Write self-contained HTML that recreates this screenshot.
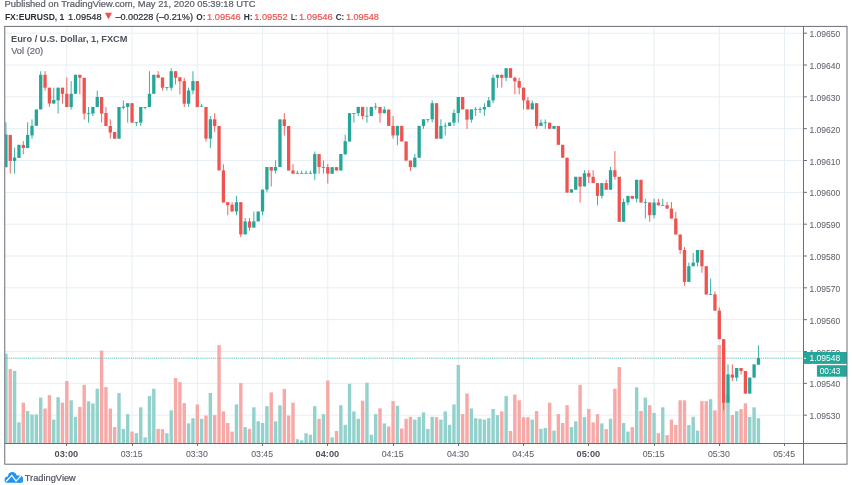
<!DOCTYPE html>
<html><head><meta charset="utf-8"><style>
html,body{margin:0;padding:0;width:852px;height:485px;overflow:hidden;background:#fff;}
body{position:relative;font-family:"Liberation Sans",sans-serif;}
</style></head><body>
<svg width="852" height="485" viewBox="0 0 852 485" style="position:absolute;left:0;top:0;will-change:transform">
<rect x="0" y="0" width="852" height="485" fill="#ffffff"/>
<text x="4.60" y="7.20" font-size="9.3" fill="#5d606b" font-family="Liberation Sans, sans-serif" stroke="#5d606b" stroke-width="0.22" textLength="251.00" lengthAdjust="spacingAndGlyphs">Published on TradingView.com, May 21, 2020 05:39:18 UTC</text>
<text x="4.90" y="19.70" font-size="9.8" fill="#2a2e39" font-family="Liberation Sans, sans-serif" font-weight="bold" textLength="59.50" lengthAdjust="spacingAndGlyphs">FX:EURUSD, 1</text>
<text x="68.10" y="19.70" font-size="9.8" fill="#2a2e39" font-family="Liberation Sans, sans-serif" stroke="#2a2e39" stroke-width="0.22" textLength="33.60" lengthAdjust="spacingAndGlyphs">1.09548</text>
<polygon points="105.0,12.8 111.9,12.8 108.45,19.5" fill="#ef5350"/>
<text x="115.40" y="19.70" font-size="9.8" fill="#2a2e39" font-family="Liberation Sans, sans-serif" stroke="#2a2e39" stroke-width="0.22" textLength="77.60" lengthAdjust="spacingAndGlyphs">–0.00228 (–0.21%)</text>
<text x="196.30" y="19.70" font-size="9.8" fill="#2a2e39" font-family="Liberation Sans, sans-serif" font-weight="bold" textLength="9.20" lengthAdjust="spacingAndGlyphs">O:</text>
<text x="207.10" y="19.70" font-size="9.8" fill="#ef5350" font-family="Liberation Sans, sans-serif" stroke="#ef5350" stroke-width="0.22" textLength="33.50" lengthAdjust="spacingAndGlyphs">1.09546</text>
<text x="243.70" y="19.70" font-size="9.8" fill="#2a2e39" font-family="Liberation Sans, sans-serif" font-weight="bold" textLength="8.90" lengthAdjust="spacingAndGlyphs">H:</text>
<text x="254.20" y="19.70" font-size="9.8" fill="#ef5350" font-family="Liberation Sans, sans-serif" stroke="#ef5350" stroke-width="0.22" textLength="33.40" lengthAdjust="spacingAndGlyphs">1.09552</text>
<text x="290.90" y="19.70" font-size="9.8" fill="#2a2e39" font-family="Liberation Sans, sans-serif" font-weight="bold" textLength="6.40" lengthAdjust="spacingAndGlyphs">L:</text>
<text x="298.90" y="19.70" font-size="9.8" fill="#ef5350" font-family="Liberation Sans, sans-serif" stroke="#ef5350" stroke-width="0.22" textLength="33.90" lengthAdjust="spacingAndGlyphs">1.09546</text>
<text x="335.70" y="19.70" font-size="9.8" fill="#2a2e39" font-family="Liberation Sans, sans-serif" font-weight="bold" textLength="8.60" lengthAdjust="spacingAndGlyphs">C:</text>
<text x="345.90" y="19.70" font-size="9.8" fill="#ef5350" font-family="Liberation Sans, sans-serif" stroke="#ef5350" stroke-width="0.22" textLength="33.00" lengthAdjust="spacingAndGlyphs">1.09548</text>
<g stroke="#e6eef4" stroke-width="1">
<line x1="4.75" y1="33.20" x2="803.5" y2="33.20"/>
<line x1="4.75" y1="65.03" x2="803.5" y2="65.03"/>
<line x1="4.75" y1="96.86" x2="803.5" y2="96.86"/>
<line x1="4.75" y1="128.69" x2="803.5" y2="128.69"/>
<line x1="4.75" y1="160.52" x2="803.5" y2="160.52"/>
<line x1="4.75" y1="192.35" x2="803.5" y2="192.35"/>
<line x1="4.75" y1="224.18" x2="803.5" y2="224.18"/>
<line x1="4.75" y1="256.01" x2="803.5" y2="256.01"/>
<line x1="4.75" y1="287.84" x2="803.5" y2="287.84"/>
<line x1="4.75" y1="319.67" x2="803.5" y2="319.67"/>
<line x1="4.75" y1="351.50" x2="803.5" y2="351.50"/>
<line x1="4.75" y1="383.33" x2="803.5" y2="383.33"/>
<line x1="4.75" y1="415.16" x2="803.5" y2="415.16"/>
<line x1="66.80" y1="26.4" x2="66.80" y2="443.5"/>
<line x1="132.05" y1="26.4" x2="132.05" y2="443.5"/>
<line x1="197.30" y1="26.4" x2="197.30" y2="443.5"/>
<line x1="262.55" y1="26.4" x2="262.55" y2="443.5"/>
<line x1="327.80" y1="26.4" x2="327.80" y2="443.5"/>
<line x1="393.05" y1="26.4" x2="393.05" y2="443.5"/>
<line x1="458.30" y1="26.4" x2="458.30" y2="443.5"/>
<line x1="523.55" y1="26.4" x2="523.55" y2="443.5"/>
<line x1="588.80" y1="26.4" x2="588.80" y2="443.5"/>
<line x1="654.05" y1="26.4" x2="654.05" y2="443.5"/>
<line x1="719.30" y1="26.4" x2="719.30" y2="443.5"/>
<line x1="784.55" y1="26.4" x2="784.55" y2="443.5"/>
</g>
<g>
<rect x="5.25" y="353.70" width="2.35" height="89.30" fill="#93d2cc"/>
<rect x="8.55" y="369.10" width="3.40" height="73.90" fill="#f7a9a7"/>
<rect x="12.90" y="370.80" width="3.40" height="72.20" fill="#93d2cc"/>
<rect x="17.25" y="422.30" width="3.40" height="20.70" fill="#93d2cc"/>
<rect x="21.60" y="402.70" width="3.40" height="40.30" fill="#f7a9a7"/>
<rect x="25.95" y="411.00" width="3.40" height="32.00" fill="#93d2cc"/>
<rect x="30.30" y="414.50" width="3.40" height="28.50" fill="#93d2cc"/>
<rect x="34.65" y="414.50" width="3.40" height="28.50" fill="#93d2cc"/>
<rect x="39.00" y="397.60" width="3.40" height="45.40" fill="#93d2cc"/>
<rect x="43.35" y="408.50" width="3.40" height="34.50" fill="#f7a9a7"/>
<rect x="47.70" y="395.10" width="3.40" height="47.90" fill="#f7a9a7"/>
<rect x="52.05" y="419.60" width="3.40" height="23.40" fill="#93d2cc"/>
<rect x="56.40" y="397.20" width="3.40" height="45.80" fill="#93d2cc"/>
<rect x="60.75" y="402.70" width="3.40" height="40.30" fill="#f7a9a7"/>
<rect x="65.10" y="381.10" width="3.40" height="61.90" fill="#f7a9a7"/>
<rect x="69.45" y="400.30" width="3.40" height="42.70" fill="#93d2cc"/>
<rect x="73.80" y="416.80" width="3.40" height="26.20" fill="#93d2cc"/>
<rect x="78.15" y="406.90" width="3.40" height="36.10" fill="#f7a9a7"/>
<rect x="82.50" y="384.80" width="3.40" height="58.20" fill="#f7a9a7"/>
<rect x="86.85" y="401.30" width="3.40" height="41.70" fill="#93d2cc"/>
<rect x="91.20" y="403.40" width="3.40" height="39.60" fill="#93d2cc"/>
<rect x="95.55" y="388.70" width="3.40" height="54.30" fill="#93d2cc"/>
<rect x="99.90" y="350.60" width="3.40" height="92.40" fill="#f7a9a7"/>
<rect x="104.25" y="387.10" width="3.40" height="55.90" fill="#f7a9a7"/>
<rect x="108.60" y="408.50" width="3.40" height="34.50" fill="#f7a9a7"/>
<rect x="112.95" y="427.10" width="3.40" height="15.90" fill="#f7a9a7"/>
<rect x="117.30" y="393.00" width="3.40" height="50.00" fill="#93d2cc"/>
<rect x="121.65" y="428.90" width="3.40" height="14.10" fill="#93d2cc"/>
<rect x="126.00" y="414.10" width="3.40" height="28.90" fill="#93d2cc"/>
<rect x="130.35" y="431.60" width="3.40" height="11.40" fill="#f7a9a7"/>
<rect x="134.70" y="433.20" width="3.40" height="9.80" fill="#93d2cc"/>
<rect x="139.05" y="407.30" width="3.40" height="35.70" fill="#93d2cc"/>
<rect x="143.40" y="437.40" width="3.40" height="5.60" fill="#93d2cc"/>
<rect x="147.75" y="396.10" width="3.40" height="46.90" fill="#93d2cc"/>
<rect x="152.10" y="388.70" width="3.40" height="54.30" fill="#93d2cc"/>
<rect x="156.45" y="428.90" width="3.40" height="14.10" fill="#f7a9a7"/>
<rect x="160.80" y="429.10" width="3.40" height="13.90" fill="#f7a9a7"/>
<rect x="165.15" y="433.20" width="3.40" height="9.80" fill="#93d2cc"/>
<rect x="169.50" y="410.40" width="3.40" height="32.60" fill="#93d2cc"/>
<rect x="173.85" y="378.00" width="3.40" height="65.00" fill="#f7a9a7"/>
<rect x="178.20" y="382.10" width="3.40" height="60.90" fill="#f7a9a7"/>
<rect x="182.55" y="403.10" width="3.40" height="39.90" fill="#f7a9a7"/>
<rect x="186.90" y="423.40" width="3.40" height="19.60" fill="#93d2cc"/>
<rect x="191.25" y="418.20" width="3.40" height="24.80" fill="#93d2cc"/>
<rect x="195.60" y="404.40" width="3.40" height="38.60" fill="#f7a9a7"/>
<rect x="199.95" y="418.80" width="3.40" height="24.20" fill="#93d2cc"/>
<rect x="204.30" y="415.50" width="3.40" height="27.50" fill="#f7a9a7"/>
<rect x="208.65" y="393.00" width="3.40" height="50.00" fill="#93d2cc"/>
<rect x="213.00" y="415.10" width="3.40" height="27.90" fill="#f7a9a7"/>
<rect x="217.35" y="345.10" width="3.40" height="97.90" fill="#f7a9a7"/>
<rect x="221.70" y="411.40" width="3.40" height="31.60" fill="#f7a9a7"/>
<rect x="226.05" y="423.00" width="3.40" height="20.00" fill="#f7a9a7"/>
<rect x="230.40" y="431.60" width="3.40" height="11.40" fill="#f7a9a7"/>
<rect x="234.75" y="404.40" width="3.40" height="38.60" fill="#93d2cc"/>
<rect x="239.10" y="383.10" width="3.40" height="59.90" fill="#f7a9a7"/>
<rect x="243.45" y="427.10" width="3.40" height="15.90" fill="#93d2cc"/>
<rect x="247.80" y="428.90" width="3.40" height="14.10" fill="#f7a9a7"/>
<rect x="252.15" y="407.30" width="3.40" height="35.70" fill="#93d2cc"/>
<rect x="256.50" y="421.30" width="3.40" height="21.70" fill="#93d2cc"/>
<rect x="260.85" y="423.00" width="3.40" height="20.00" fill="#93d2cc"/>
<rect x="265.20" y="406.20" width="3.40" height="36.80" fill="#93d2cc"/>
<rect x="269.55" y="392.40" width="3.40" height="50.60" fill="#f7a9a7"/>
<rect x="273.90" y="421.30" width="3.40" height="21.70" fill="#93d2cc"/>
<rect x="278.25" y="405.20" width="3.40" height="37.80" fill="#93d2cc"/>
<rect x="282.60" y="388.90" width="3.40" height="54.10" fill="#f7a9a7"/>
<rect x="286.95" y="415.50" width="3.40" height="27.50" fill="#f7a9a7"/>
<rect x="291.30" y="402.70" width="3.40" height="40.30" fill="#f7a9a7"/>
<rect x="295.65" y="439.20" width="3.40" height="3.80" fill="#93d2cc"/>
<rect x="300.00" y="440.30" width="3.40" height="2.70" fill="#93d2cc"/>
<rect x="304.35" y="433.20" width="3.40" height="9.80" fill="#93d2cc"/>
<rect x="308.70" y="434.70" width="3.40" height="8.30" fill="#93d2cc"/>
<rect x="313.05" y="406.20" width="3.40" height="36.80" fill="#93d2cc"/>
<rect x="317.40" y="418.80" width="3.40" height="24.20" fill="#f7a9a7"/>
<rect x="321.75" y="414.10" width="3.40" height="28.90" fill="#93d2cc"/>
<rect x="326.10" y="380.50" width="3.40" height="62.50" fill="#f7a9a7"/>
<rect x="330.45" y="437.40" width="3.40" height="5.60" fill="#93d2cc"/>
<rect x="334.80" y="431.00" width="3.40" height="12.00" fill="#f7a9a7"/>
<rect x="339.15" y="405.20" width="3.40" height="37.80" fill="#93d2cc"/>
<rect x="343.50" y="424.80" width="3.40" height="18.20" fill="#93d2cc"/>
<rect x="347.85" y="383.80" width="3.40" height="59.20" fill="#93d2cc"/>
<rect x="352.20" y="411.40" width="3.40" height="31.60" fill="#93d2cc"/>
<rect x="356.55" y="418.80" width="3.40" height="24.20" fill="#93d2cc"/>
<rect x="360.90" y="400.70" width="3.40" height="42.30" fill="#f7a9a7"/>
<rect x="365.25" y="382.70" width="3.40" height="60.30" fill="#93d2cc"/>
<rect x="369.60" y="434.70" width="3.40" height="8.30" fill="#93d2cc"/>
<rect x="373.95" y="414.10" width="3.40" height="28.90" fill="#93d2cc"/>
<rect x="378.30" y="408.30" width="3.40" height="34.70" fill="#f7a9a7"/>
<rect x="382.65" y="423.40" width="3.40" height="19.60" fill="#93d2cc"/>
<rect x="387.00" y="426.40" width="3.40" height="16.60" fill="#f7a9a7"/>
<rect x="391.35" y="401.10" width="3.40" height="41.90" fill="#f7a9a7"/>
<rect x="395.70" y="405.80" width="3.40" height="37.20" fill="#93d2cc"/>
<rect x="400.05" y="428.50" width="3.40" height="14.50" fill="#f7a9a7"/>
<rect x="404.40" y="418.80" width="3.40" height="24.20" fill="#f7a9a7"/>
<rect x="408.75" y="416.80" width="3.40" height="26.20" fill="#f7a9a7"/>
<rect x="413.10" y="419.60" width="3.40" height="23.40" fill="#93d2cc"/>
<rect x="417.45" y="416.80" width="3.40" height="26.20" fill="#93d2cc"/>
<rect x="421.80" y="412.40" width="3.40" height="30.60" fill="#93d2cc"/>
<rect x="426.15" y="428.90" width="3.40" height="14.10" fill="#93d2cc"/>
<rect x="430.50" y="416.80" width="3.40" height="26.20" fill="#93d2cc"/>
<rect x="434.85" y="417.20" width="3.40" height="25.80" fill="#f7a9a7"/>
<rect x="439.20" y="419.60" width="3.40" height="23.40" fill="#93d2cc"/>
<rect x="443.55" y="411.40" width="3.40" height="31.60" fill="#93d2cc"/>
<rect x="447.90" y="424.80" width="3.40" height="18.20" fill="#93d2cc"/>
<rect x="452.25" y="404.40" width="3.40" height="38.60" fill="#93d2cc"/>
<rect x="456.60" y="365.00" width="3.40" height="78.00" fill="#93d2cc"/>
<rect x="460.95" y="414.10" width="3.40" height="28.90" fill="#f7a9a7"/>
<rect x="465.30" y="393.50" width="3.40" height="49.50" fill="#f7a9a7"/>
<rect x="469.65" y="408.50" width="3.40" height="34.50" fill="#93d2cc"/>
<rect x="474.00" y="418.20" width="3.40" height="24.80" fill="#93d2cc"/>
<rect x="478.35" y="418.80" width="3.40" height="24.20" fill="#93d2cc"/>
<rect x="482.70" y="419.60" width="3.40" height="23.40" fill="#93d2cc"/>
<rect x="487.05" y="418.20" width="3.40" height="24.80" fill="#93d2cc"/>
<rect x="491.40" y="408.90" width="3.40" height="34.10" fill="#93d2cc"/>
<rect x="495.75" y="415.10" width="3.40" height="27.90" fill="#93d2cc"/>
<rect x="500.10" y="411.40" width="3.40" height="31.60" fill="#f7a9a7"/>
<rect x="504.45" y="396.10" width="3.40" height="46.90" fill="#93d2cc"/>
<rect x="508.80" y="431.00" width="3.40" height="12.00" fill="#f7a9a7"/>
<rect x="513.15" y="394.50" width="3.40" height="48.50" fill="#f7a9a7"/>
<rect x="517.50" y="400.30" width="3.40" height="42.70" fill="#f7a9a7"/>
<rect x="521.85" y="417.20" width="3.40" height="25.80" fill="#f7a9a7"/>
<rect x="526.20" y="417.20" width="3.40" height="25.80" fill="#f7a9a7"/>
<rect x="530.55" y="419.60" width="3.40" height="23.40" fill="#93d2cc"/>
<rect x="534.90" y="411.00" width="3.40" height="32.00" fill="#f7a9a7"/>
<rect x="539.25" y="428.90" width="3.40" height="14.10" fill="#93d2cc"/>
<rect x="543.60" y="427.90" width="3.40" height="15.10" fill="#93d2cc"/>
<rect x="547.95" y="402.70" width="3.40" height="40.30" fill="#f7a9a7"/>
<rect x="552.30" y="430.60" width="3.40" height="12.40" fill="#93d2cc"/>
<rect x="556.65" y="414.10" width="3.40" height="28.90" fill="#f7a9a7"/>
<rect x="561.00" y="423.00" width="3.40" height="20.00" fill="#f7a9a7"/>
<rect x="565.35" y="405.20" width="3.40" height="37.80" fill="#f7a9a7"/>
<rect x="569.70" y="427.10" width="3.40" height="15.90" fill="#93d2cc"/>
<rect x="574.05" y="421.30" width="3.40" height="21.70" fill="#93d2cc"/>
<rect x="578.40" y="384.80" width="3.40" height="58.20" fill="#f7a9a7"/>
<rect x="582.75" y="417.20" width="3.40" height="25.80" fill="#93d2cc"/>
<rect x="587.10" y="408.90" width="3.40" height="34.10" fill="#f7a9a7"/>
<rect x="591.45" y="422.30" width="3.40" height="20.70" fill="#f7a9a7"/>
<rect x="595.80" y="414.10" width="3.40" height="28.90" fill="#f7a9a7"/>
<rect x="600.15" y="423.40" width="3.40" height="19.60" fill="#93d2cc"/>
<rect x="604.50" y="429.10" width="3.40" height="13.90" fill="#f7a9a7"/>
<rect x="608.85" y="418.80" width="3.40" height="24.20" fill="#93d2cc"/>
<rect x="613.20" y="388.70" width="3.40" height="54.30" fill="#f7a9a7"/>
<rect x="617.55" y="367.10" width="3.40" height="75.90" fill="#f7a9a7"/>
<rect x="621.90" y="423.00" width="3.40" height="20.00" fill="#93d2cc"/>
<rect x="626.25" y="431.60" width="3.40" height="11.40" fill="#93d2cc"/>
<rect x="630.60" y="427.10" width="3.40" height="15.90" fill="#f7a9a7"/>
<rect x="634.95" y="387.30" width="3.40" height="55.70" fill="#93d2cc"/>
<rect x="639.30" y="411.00" width="3.40" height="32.00" fill="#f7a9a7"/>
<rect x="643.65" y="397.60" width="3.40" height="45.40" fill="#93d2cc"/>
<rect x="648.00" y="405.20" width="3.40" height="37.80" fill="#f7a9a7"/>
<rect x="652.35" y="413.00" width="3.40" height="30.00" fill="#93d2cc"/>
<rect x="656.70" y="433.20" width="3.40" height="9.80" fill="#f7a9a7"/>
<rect x="661.05" y="407.30" width="3.40" height="35.70" fill="#93d2cc"/>
<rect x="665.40" y="435.10" width="3.40" height="7.90" fill="#f7a9a7"/>
<rect x="669.75" y="419.60" width="3.40" height="23.40" fill="#f7a9a7"/>
<rect x="674.10" y="425.00" width="3.40" height="18.00" fill="#f7a9a7"/>
<rect x="678.45" y="400.30" width="3.40" height="42.70" fill="#f7a9a7"/>
<rect x="682.80" y="400.30" width="3.40" height="42.70" fill="#f7a9a7"/>
<rect x="687.15" y="425.00" width="3.40" height="18.00" fill="#93d2cc"/>
<rect x="691.50" y="416.80" width="3.40" height="26.20" fill="#93d2cc"/>
<rect x="695.85" y="430.60" width="3.40" height="12.40" fill="#93d2cc"/>
<rect x="700.20" y="401.10" width="3.40" height="41.90" fill="#f7a9a7"/>
<rect x="704.55" y="401.10" width="3.40" height="41.90" fill="#f7a9a7"/>
<rect x="708.90" y="399.20" width="3.40" height="43.80" fill="#93d2cc"/>
<rect x="713.25" y="410.40" width="3.40" height="32.60" fill="#f7a9a7"/>
<rect x="717.60" y="345.00" width="3.40" height="98.00" fill="#f7a9a7"/>
<rect x="721.95" y="395.00" width="3.40" height="48.00" fill="#f7a9a7"/>
<rect x="726.30" y="395.00" width="3.40" height="48.00" fill="#93d2cc"/>
<rect x="730.65" y="415.00" width="3.40" height="28.00" fill="#f7a9a7"/>
<rect x="735.00" y="411.20" width="3.40" height="31.80" fill="#93d2cc"/>
<rect x="739.35" y="409.10" width="3.40" height="33.90" fill="#f7a9a7"/>
<rect x="743.70" y="403.30" width="3.40" height="39.70" fill="#f7a9a7"/>
<rect x="748.05" y="416.90" width="3.40" height="26.10" fill="#93d2cc"/>
<rect x="752.40" y="407.30" width="3.40" height="35.70" fill="#93d2cc"/>
<rect x="756.75" y="418.20" width="3.40" height="24.80" fill="#93d2cc"/>
</g>
<line x1="4.75" y1="358.2" x2="804.5" y2="358.2" stroke="#6cc2b9" stroke-width="1" stroke-dasharray="1.3 0.8"/>
<g>
<line x1="5.90" y1="122.20" x2="5.90" y2="167.20" stroke="#26a69a" stroke-width="0.9"/>
<rect x="5.25" y="134.50" width="2.30" height="32.70" fill="#26a69a"/>
<line x1="10.25" y1="134.90" x2="10.25" y2="173.70" stroke="#ef5350" stroke-width="0.9"/>
<rect x="8.60" y="134.90" width="3.30" height="26.00" fill="#ef5350"/>
<line x1="14.60" y1="147.70" x2="14.60" y2="173.70" stroke="#26a69a" stroke-width="0.9"/>
<rect x="12.95" y="157.60" width="3.30" height="3.30" fill="#26a69a"/>
<line x1="18.95" y1="144.80" x2="18.95" y2="157.90" stroke="#26a69a" stroke-width="0.9"/>
<rect x="17.30" y="144.80" width="3.30" height="13.10" fill="#26a69a"/>
<line x1="23.30" y1="141.10" x2="23.30" y2="154.30" stroke="#ef5350" stroke-width="0.9"/>
<rect x="21.65" y="144.90" width="3.30" height="3.10" fill="#ef5350"/>
<line x1="27.65" y1="122.20" x2="27.65" y2="148.00" stroke="#26a69a" stroke-width="0.9"/>
<rect x="26.00" y="134.90" width="3.30" height="13.10" fill="#26a69a"/>
<line x1="32.00" y1="119.40" x2="32.00" y2="138.70" stroke="#26a69a" stroke-width="0.9"/>
<rect x="30.35" y="125.80" width="3.30" height="9.60" fill="#26a69a"/>
<line x1="36.35" y1="109.50" x2="36.35" y2="125.80" stroke="#26a69a" stroke-width="0.9"/>
<rect x="34.70" y="109.50" width="3.30" height="16.30" fill="#26a69a"/>
<line x1="40.70" y1="71.30" x2="40.70" y2="109.40" stroke="#26a69a" stroke-width="0.9"/>
<rect x="39.05" y="74.80" width="3.30" height="34.60" fill="#26a69a"/>
<line x1="45.05" y1="71.20" x2="45.05" y2="90.70" stroke="#ef5350" stroke-width="0.9"/>
<rect x="43.40" y="74.80" width="3.30" height="12.90" fill="#ef5350"/>
<line x1="49.40" y1="87.70" x2="49.40" y2="107.00" stroke="#ef5350" stroke-width="0.9"/>
<rect x="47.75" y="87.70" width="3.30" height="15.80" fill="#ef5350"/>
<line x1="53.75" y1="87.70" x2="53.75" y2="103.60" stroke="#26a69a" stroke-width="0.9"/>
<rect x="52.10" y="100.00" width="3.30" height="3.60" fill="#26a69a"/>
<line x1="58.10" y1="87.70" x2="58.10" y2="113.50" stroke="#26a69a" stroke-width="0.9"/>
<rect x="56.45" y="87.70" width="3.30" height="12.70" fill="#26a69a"/>
<line x1="62.45" y1="87.70" x2="62.45" y2="103.70" stroke="#ef5350" stroke-width="0.9"/>
<rect x="60.80" y="87.70" width="3.30" height="6.10" fill="#ef5350"/>
<line x1="66.80" y1="77.50" x2="66.80" y2="107.00" stroke="#ef5350" stroke-width="0.9"/>
<rect x="65.15" y="93.80" width="3.30" height="13.20" fill="#ef5350"/>
<line x1="71.15" y1="81.10" x2="71.15" y2="109.60" stroke="#26a69a" stroke-width="0.9"/>
<rect x="69.50" y="93.80" width="3.30" height="13.20" fill="#26a69a"/>
<line x1="75.50" y1="74.80" x2="75.50" y2="93.80" stroke="#26a69a" stroke-width="0.9"/>
<rect x="73.85" y="74.80" width="3.30" height="19.00" fill="#26a69a"/>
<line x1="79.85" y1="74.80" x2="79.85" y2="94.30" stroke="#ef5350" stroke-width="0.9"/>
<rect x="78.20" y="74.80" width="3.30" height="3.00" fill="#ef5350"/>
<line x1="84.20" y1="77.80" x2="84.20" y2="119.60" stroke="#ef5350" stroke-width="0.9"/>
<rect x="82.55" y="77.80" width="3.30" height="35.70" fill="#ef5350"/>
<line x1="88.55" y1="107.00" x2="88.55" y2="122.60" stroke="#26a69a" stroke-width="0.9"/>
<rect x="86.90" y="113.20" width="3.30" height="0.80" fill="#26a69a"/>
<line x1="92.90" y1="107.00" x2="92.90" y2="116.20" stroke="#26a69a" stroke-width="0.9"/>
<rect x="91.25" y="107.00" width="3.30" height="6.50" fill="#26a69a"/>
<line x1="97.25" y1="90.50" x2="97.25" y2="107.00" stroke="#26a69a" stroke-width="0.9"/>
<rect x="95.60" y="97.00" width="3.30" height="10.00" fill="#26a69a"/>
<line x1="101.60" y1="97.00" x2="101.60" y2="122.60" stroke="#ef5350" stroke-width="0.9"/>
<rect x="99.95" y="97.00" width="3.30" height="16.50" fill="#ef5350"/>
<line x1="105.95" y1="107.00" x2="105.95" y2="126.00" stroke="#ef5350" stroke-width="0.9"/>
<rect x="104.30" y="113.00" width="3.30" height="13.00" fill="#ef5350"/>
<line x1="110.30" y1="119.30" x2="110.30" y2="138.50" stroke="#ef5350" stroke-width="0.9"/>
<rect x="108.65" y="126.00" width="3.30" height="6.50" fill="#ef5350"/>
<line x1="114.65" y1="132.00" x2="114.65" y2="138.70" stroke="#ef5350" stroke-width="0.9"/>
<rect x="113.00" y="132.00" width="3.30" height="6.70" fill="#ef5350"/>
<line x1="119.00" y1="107.00" x2="119.00" y2="138.70" stroke="#26a69a" stroke-width="0.9"/>
<rect x="117.35" y="107.00" width="3.30" height="31.70" fill="#26a69a"/>
<line x1="123.35" y1="100.40" x2="123.35" y2="109.40" stroke="#26a69a" stroke-width="0.9"/>
<rect x="121.70" y="106.60" width="3.30" height="1.20" fill="#26a69a"/>
<line x1="127.70" y1="103.20" x2="127.70" y2="122.60" stroke="#26a69a" stroke-width="0.9"/>
<rect x="126.05" y="103.20" width="3.30" height="3.80" fill="#26a69a"/>
<line x1="132.05" y1="103.20" x2="132.05" y2="122.60" stroke="#ef5350" stroke-width="0.9"/>
<rect x="130.40" y="103.20" width="3.30" height="19.40" fill="#ef5350"/>
<line x1="136.40" y1="122.20" x2="136.40" y2="126.00" stroke="#26a69a" stroke-width="0.9"/>
<rect x="134.75" y="122.20" width="3.30" height="0.80" fill="#26a69a"/>
<line x1="140.75" y1="107.00" x2="140.75" y2="126.00" stroke="#26a69a" stroke-width="0.9"/>
<rect x="139.10" y="107.00" width="3.30" height="15.60" fill="#26a69a"/>
<line x1="145.10" y1="107.00" x2="145.10" y2="109.40" stroke="#26a69a" stroke-width="0.9"/>
<rect x="143.45" y="107.00" width="3.30" height="0.80" fill="#26a69a"/>
<line x1="149.45" y1="71.20" x2="149.45" y2="107.00" stroke="#26a69a" stroke-width="0.9"/>
<rect x="147.80" y="93.80" width="3.30" height="13.20" fill="#26a69a"/>
<line x1="153.80" y1="74.80" x2="153.80" y2="93.80" stroke="#26a69a" stroke-width="0.9"/>
<rect x="152.15" y="74.80" width="3.30" height="19.00" fill="#26a69a"/>
<line x1="158.15" y1="71.20" x2="158.15" y2="77.80" stroke="#ef5350" stroke-width="0.9"/>
<rect x="156.50" y="74.80" width="3.30" height="3.00" fill="#ef5350"/>
<line x1="162.50" y1="77.50" x2="162.50" y2="90.50" stroke="#ef5350" stroke-width="0.9"/>
<rect x="160.85" y="77.50" width="3.30" height="10.20" fill="#ef5350"/>
<line x1="166.85" y1="87.20" x2="166.85" y2="90.50" stroke="#26a69a" stroke-width="0.9"/>
<rect x="165.20" y="87.20" width="3.30" height="0.80" fill="#26a69a"/>
<line x1="171.20" y1="68.20" x2="171.20" y2="90.50" stroke="#26a69a" stroke-width="0.9"/>
<rect x="169.55" y="71.20" width="3.30" height="16.50" fill="#26a69a"/>
<line x1="175.55" y1="71.20" x2="175.55" y2="84.40" stroke="#ef5350" stroke-width="0.9"/>
<rect x="173.90" y="71.20" width="3.30" height="6.60" fill="#ef5350"/>
<line x1="179.90" y1="77.30" x2="179.90" y2="94.30" stroke="#ef5350" stroke-width="0.9"/>
<rect x="178.25" y="77.30" width="3.30" height="4.10" fill="#ef5350"/>
<line x1="184.25" y1="77.80" x2="184.25" y2="107.00" stroke="#ef5350" stroke-width="0.9"/>
<rect x="182.60" y="81.10" width="3.30" height="22.60" fill="#ef5350"/>
<line x1="188.60" y1="87.70" x2="188.60" y2="107.00" stroke="#26a69a" stroke-width="0.9"/>
<rect x="186.95" y="90.50" width="3.30" height="13.20" fill="#26a69a"/>
<line x1="192.95" y1="71.20" x2="192.95" y2="94.30" stroke="#26a69a" stroke-width="0.9"/>
<rect x="191.30" y="81.10" width="3.30" height="9.40" fill="#26a69a"/>
<line x1="197.30" y1="81.10" x2="197.30" y2="107.00" stroke="#ef5350" stroke-width="0.9"/>
<rect x="195.65" y="81.10" width="3.30" height="25.90" fill="#ef5350"/>
<line x1="201.65" y1="103.70" x2="201.65" y2="107.00" stroke="#26a69a" stroke-width="0.9"/>
<rect x="200.00" y="105.80" width="3.30" height="0.80" fill="#26a69a"/>
<line x1="206.00" y1="107.00" x2="206.00" y2="141.50" stroke="#ef5350" stroke-width="0.9"/>
<rect x="204.35" y="107.00" width="3.30" height="31.60" fill="#ef5350"/>
<line x1="210.35" y1="116.00" x2="210.35" y2="148.10" stroke="#26a69a" stroke-width="0.9"/>
<rect x="208.70" y="119.30" width="3.30" height="19.30" fill="#26a69a"/>
<line x1="214.70" y1="113.00" x2="214.70" y2="132.00" stroke="#ef5350" stroke-width="0.9"/>
<rect x="213.05" y="119.30" width="3.30" height="6.70" fill="#ef5350"/>
<line x1="219.05" y1="126.00" x2="219.05" y2="170.40" stroke="#ef5350" stroke-width="0.9"/>
<rect x="217.40" y="126.00" width="3.30" height="44.40" fill="#ef5350"/>
<line x1="223.40" y1="164.30" x2="223.40" y2="202.50" stroke="#ef5350" stroke-width="0.9"/>
<rect x="221.75" y="170.40" width="3.30" height="32.10" fill="#ef5350"/>
<line x1="227.75" y1="202.20" x2="227.75" y2="215.20" stroke="#ef5350" stroke-width="0.9"/>
<rect x="226.10" y="202.20" width="3.30" height="3.10" fill="#ef5350"/>
<line x1="232.10" y1="202.20" x2="232.10" y2="211.50" stroke="#ef5350" stroke-width="0.9"/>
<rect x="230.45" y="204.70" width="3.30" height="6.80" fill="#ef5350"/>
<line x1="236.45" y1="195.80" x2="236.45" y2="215.20" stroke="#26a69a" stroke-width="0.9"/>
<rect x="234.80" y="202.20" width="3.30" height="9.30" fill="#26a69a"/>
<line x1="240.80" y1="202.20" x2="240.80" y2="237.10" stroke="#ef5350" stroke-width="0.9"/>
<rect x="239.15" y="202.20" width="3.30" height="32.20" fill="#ef5350"/>
<line x1="245.15" y1="218.00" x2="245.15" y2="234.40" stroke="#26a69a" stroke-width="0.9"/>
<rect x="243.50" y="221.40" width="3.30" height="13.00" fill="#26a69a"/>
<line x1="249.50" y1="218.00" x2="249.50" y2="230.70" stroke="#ef5350" stroke-width="0.9"/>
<rect x="247.85" y="221.40" width="3.30" height="6.20" fill="#ef5350"/>
<line x1="253.85" y1="211.50" x2="253.85" y2="227.60" stroke="#26a69a" stroke-width="0.9"/>
<rect x="252.20" y="221.40" width="3.30" height="6.20" fill="#26a69a"/>
<line x1="258.20" y1="211.50" x2="258.20" y2="221.40" stroke="#26a69a" stroke-width="0.9"/>
<rect x="256.55" y="211.50" width="3.30" height="9.90" fill="#26a69a"/>
<line x1="262.55" y1="189.60" x2="262.55" y2="215.20" stroke="#26a69a" stroke-width="0.9"/>
<rect x="260.90" y="189.60" width="3.30" height="21.90" fill="#26a69a"/>
<line x1="266.90" y1="167.00" x2="266.90" y2="192.40" stroke="#26a69a" stroke-width="0.9"/>
<rect x="265.25" y="167.00" width="3.30" height="22.60" fill="#26a69a"/>
<line x1="271.25" y1="167.00" x2="271.25" y2="186.50" stroke="#ef5350" stroke-width="0.9"/>
<rect x="269.60" y="167.00" width="3.30" height="3.60" fill="#ef5350"/>
<line x1="275.60" y1="160.40" x2="275.60" y2="173.70" stroke="#26a69a" stroke-width="0.9"/>
<rect x="273.95" y="167.00" width="3.30" height="3.60" fill="#26a69a"/>
<line x1="279.95" y1="119.40" x2="279.95" y2="167.00" stroke="#26a69a" stroke-width="0.9"/>
<rect x="278.30" y="119.40" width="3.30" height="47.60" fill="#26a69a"/>
<line x1="284.30" y1="113.10" x2="284.30" y2="135.60" stroke="#ef5350" stroke-width="0.9"/>
<rect x="282.65" y="119.40" width="3.30" height="6.60" fill="#ef5350"/>
<line x1="288.65" y1="126.00" x2="288.65" y2="170.50" stroke="#ef5350" stroke-width="0.9"/>
<rect x="287.00" y="126.00" width="3.30" height="44.50" fill="#ef5350"/>
<line x1="293.00" y1="164.10" x2="293.00" y2="173.70" stroke="#ef5350" stroke-width="0.9"/>
<rect x="291.35" y="170.50" width="3.30" height="3.20" fill="#ef5350"/>
<line x1="297.35" y1="170.60" x2="297.35" y2="173.70" stroke="#26a69a" stroke-width="0.9"/>
<rect x="295.70" y="172.90" width="3.30" height="0.80" fill="#26a69a"/>
<line x1="301.70" y1="170.60" x2="301.70" y2="173.70" stroke="#26a69a" stroke-width="0.9"/>
<rect x="300.05" y="172.90" width="3.30" height="0.80" fill="#26a69a"/>
<line x1="306.05" y1="170.60" x2="306.05" y2="173.70" stroke="#26a69a" stroke-width="0.9"/>
<rect x="304.40" y="172.90" width="3.30" height="0.80" fill="#26a69a"/>
<line x1="310.40" y1="170.60" x2="310.40" y2="173.70" stroke="#26a69a" stroke-width="0.9"/>
<rect x="308.75" y="172.90" width="3.30" height="0.80" fill="#26a69a"/>
<line x1="314.75" y1="151.50" x2="314.75" y2="179.90" stroke="#26a69a" stroke-width="0.9"/>
<rect x="313.10" y="154.10" width="3.30" height="19.60" fill="#26a69a"/>
<line x1="319.10" y1="154.10" x2="319.10" y2="173.70" stroke="#ef5350" stroke-width="0.9"/>
<rect x="317.45" y="154.10" width="3.30" height="12.90" fill="#ef5350"/>
<line x1="323.45" y1="160.40" x2="323.45" y2="173.70" stroke="#26a69a" stroke-width="0.9"/>
<rect x="321.80" y="167.00" width="3.30" height="0.80" fill="#26a69a"/>
<line x1="327.80" y1="163.90" x2="327.80" y2="183.50" stroke="#ef5350" stroke-width="0.9"/>
<rect x="326.15" y="167.10" width="3.30" height="6.60" fill="#ef5350"/>
<line x1="332.15" y1="167.20" x2="332.15" y2="173.80" stroke="#26a69a" stroke-width="0.9"/>
<rect x="330.50" y="167.20" width="3.30" height="6.60" fill="#26a69a"/>
<line x1="336.50" y1="167.20" x2="336.50" y2="170.50" stroke="#ef5350" stroke-width="0.9"/>
<rect x="334.85" y="167.20" width="3.30" height="3.30" fill="#ef5350"/>
<line x1="340.85" y1="154.00" x2="340.85" y2="170.50" stroke="#26a69a" stroke-width="0.9"/>
<rect x="339.20" y="154.00" width="3.30" height="16.50" fill="#26a69a"/>
<line x1="345.20" y1="134.90" x2="345.20" y2="154.40" stroke="#26a69a" stroke-width="0.9"/>
<rect x="343.55" y="141.20" width="3.30" height="13.20" fill="#26a69a"/>
<line x1="349.55" y1="113.20" x2="349.55" y2="141.50" stroke="#26a69a" stroke-width="0.9"/>
<rect x="347.90" y="113.20" width="3.30" height="28.30" fill="#26a69a"/>
<line x1="353.90" y1="113.20" x2="353.90" y2="122.70" stroke="#26a69a" stroke-width="0.9"/>
<rect x="352.25" y="113.20" width="3.30" height="0.80" fill="#26a69a"/>
<line x1="358.25" y1="106.90" x2="358.25" y2="116.10" stroke="#26a69a" stroke-width="0.9"/>
<rect x="356.60" y="106.90" width="3.30" height="6.30" fill="#26a69a"/>
<line x1="362.60" y1="106.90" x2="362.60" y2="119.40" stroke="#ef5350" stroke-width="0.9"/>
<rect x="360.95" y="106.90" width="3.30" height="9.20" fill="#ef5350"/>
<line x1="366.95" y1="106.90" x2="366.95" y2="122.70" stroke="#26a69a" stroke-width="0.9"/>
<rect x="365.30" y="115.80" width="3.30" height="0.80" fill="#26a69a"/>
<line x1="371.30" y1="106.90" x2="371.30" y2="116.10" stroke="#26a69a" stroke-width="0.9"/>
<rect x="369.65" y="106.90" width="3.30" height="9.20" fill="#26a69a"/>
<line x1="375.65" y1="103.00" x2="375.65" y2="109.60" stroke="#26a69a" stroke-width="0.9"/>
<rect x="374.00" y="106.60" width="3.30" height="0.80" fill="#26a69a"/>
<line x1="380.00" y1="106.90" x2="380.00" y2="122.60" stroke="#ef5350" stroke-width="0.9"/>
<rect x="378.35" y="106.90" width="3.30" height="6.30" fill="#ef5350"/>
<line x1="384.35" y1="106.60" x2="384.35" y2="113.20" stroke="#26a69a" stroke-width="0.9"/>
<rect x="382.70" y="109.60" width="3.30" height="3.60" fill="#26a69a"/>
<line x1="388.70" y1="109.60" x2="388.70" y2="125.90" stroke="#ef5350" stroke-width="0.9"/>
<rect x="387.05" y="109.60" width="3.30" height="16.30" fill="#ef5350"/>
<line x1="393.05" y1="116.00" x2="393.05" y2="138.70" stroke="#ef5350" stroke-width="0.9"/>
<rect x="391.40" y="125.90" width="3.30" height="9.50" fill="#ef5350"/>
<line x1="397.40" y1="125.90" x2="397.40" y2="145.30" stroke="#26a69a" stroke-width="0.9"/>
<rect x="395.75" y="125.90" width="3.30" height="9.50" fill="#26a69a"/>
<line x1="401.75" y1="125.90" x2="401.75" y2="141.50" stroke="#ef5350" stroke-width="0.9"/>
<rect x="400.10" y="125.90" width="3.30" height="15.60" fill="#ef5350"/>
<line x1="406.10" y1="141.50" x2="406.10" y2="160.60" stroke="#ef5350" stroke-width="0.9"/>
<rect x="404.45" y="141.50" width="3.30" height="19.10" fill="#ef5350"/>
<line x1="410.45" y1="160.60" x2="410.45" y2="171.00" stroke="#ef5350" stroke-width="0.9"/>
<rect x="408.80" y="160.60" width="3.30" height="6.40" fill="#ef5350"/>
<line x1="414.80" y1="154.00" x2="414.80" y2="167.20" stroke="#26a69a" stroke-width="0.9"/>
<rect x="413.15" y="157.70" width="3.30" height="9.50" fill="#26a69a"/>
<line x1="419.15" y1="125.90" x2="419.15" y2="157.70" stroke="#26a69a" stroke-width="0.9"/>
<rect x="417.50" y="125.90" width="3.30" height="31.80" fill="#26a69a"/>
<line x1="423.50" y1="119.30" x2="423.50" y2="128.90" stroke="#26a69a" stroke-width="0.9"/>
<rect x="421.85" y="119.30" width="3.30" height="6.60" fill="#26a69a"/>
<line x1="427.85" y1="119.30" x2="427.85" y2="122.50" stroke="#26a69a" stroke-width="0.9"/>
<rect x="426.20" y="119.30" width="3.30" height="0.80" fill="#26a69a"/>
<line x1="432.20" y1="100.40" x2="432.20" y2="122.50" stroke="#26a69a" stroke-width="0.9"/>
<rect x="430.55" y="103.20" width="3.30" height="16.10" fill="#26a69a"/>
<line x1="436.55" y1="103.20" x2="436.55" y2="138.70" stroke="#ef5350" stroke-width="0.9"/>
<rect x="434.90" y="103.20" width="3.30" height="35.50" fill="#ef5350"/>
<line x1="440.90" y1="119.30" x2="440.90" y2="138.70" stroke="#26a69a" stroke-width="0.9"/>
<rect x="439.25" y="126.00" width="3.30" height="12.70" fill="#26a69a"/>
<line x1="445.25" y1="122.50" x2="445.25" y2="135.40" stroke="#26a69a" stroke-width="0.9"/>
<rect x="443.60" y="125.70" width="3.30" height="0.80" fill="#26a69a"/>
<line x1="449.60" y1="122.50" x2="449.60" y2="126.00" stroke="#26a69a" stroke-width="0.9"/>
<rect x="447.95" y="122.50" width="3.30" height="3.50" fill="#26a69a"/>
<line x1="453.95" y1="109.40" x2="453.95" y2="126.00" stroke="#26a69a" stroke-width="0.9"/>
<rect x="452.30" y="113.00" width="3.30" height="9.60" fill="#26a69a"/>
<line x1="458.30" y1="97.00" x2="458.30" y2="122.60" stroke="#26a69a" stroke-width="0.9"/>
<rect x="456.65" y="97.00" width="3.30" height="16.00" fill="#26a69a"/>
<line x1="462.65" y1="97.00" x2="462.65" y2="109.40" stroke="#ef5350" stroke-width="0.9"/>
<rect x="461.00" y="97.00" width="3.30" height="12.40" fill="#ef5350"/>
<line x1="467.00" y1="109.40" x2="467.00" y2="128.90" stroke="#ef5350" stroke-width="0.9"/>
<rect x="465.35" y="109.40" width="3.30" height="10.20" fill="#ef5350"/>
<line x1="471.35" y1="109.40" x2="471.35" y2="122.60" stroke="#26a69a" stroke-width="0.9"/>
<rect x="469.70" y="109.40" width="3.30" height="10.20" fill="#26a69a"/>
<line x1="475.70" y1="107.00" x2="475.70" y2="116.00" stroke="#26a69a" stroke-width="0.9"/>
<rect x="474.05" y="109.10" width="3.30" height="0.80" fill="#26a69a"/>
<line x1="480.05" y1="107.00" x2="480.05" y2="113.00" stroke="#26a69a" stroke-width="0.9"/>
<rect x="478.40" y="109.10" width="3.30" height="0.80" fill="#26a69a"/>
<line x1="484.40" y1="103.20" x2="484.40" y2="116.00" stroke="#26a69a" stroke-width="0.9"/>
<rect x="482.75" y="107.00" width="3.30" height="2.40" fill="#26a69a"/>
<line x1="488.75" y1="97.00" x2="488.75" y2="107.00" stroke="#26a69a" stroke-width="0.9"/>
<rect x="487.10" y="100.40" width="3.30" height="6.60" fill="#26a69a"/>
<line x1="493.10" y1="74.80" x2="493.10" y2="103.20" stroke="#26a69a" stroke-width="0.9"/>
<rect x="491.45" y="77.80" width="3.30" height="22.60" fill="#26a69a"/>
<line x1="497.45" y1="74.80" x2="497.45" y2="87.70" stroke="#26a69a" stroke-width="0.9"/>
<rect x="495.80" y="74.80" width="3.30" height="3.00" fill="#26a69a"/>
<line x1="501.80" y1="74.80" x2="501.80" y2="87.70" stroke="#ef5350" stroke-width="0.9"/>
<rect x="500.15" y="74.80" width="3.30" height="3.00" fill="#ef5350"/>
<line x1="506.15" y1="68.20" x2="506.15" y2="81.10" stroke="#26a69a" stroke-width="0.9"/>
<rect x="504.50" y="68.20" width="3.30" height="9.60" fill="#26a69a"/>
<line x1="510.50" y1="68.20" x2="510.50" y2="77.80" stroke="#ef5350" stroke-width="0.9"/>
<rect x="508.85" y="68.20" width="3.30" height="9.60" fill="#ef5350"/>
<line x1="514.85" y1="76.50" x2="514.85" y2="94.30" stroke="#ef5350" stroke-width="0.9"/>
<rect x="513.20" y="77.80" width="3.30" height="3.60" fill="#ef5350"/>
<line x1="519.20" y1="77.80" x2="519.20" y2="94.30" stroke="#ef5350" stroke-width="0.9"/>
<rect x="517.55" y="81.10" width="3.30" height="6.60" fill="#ef5350"/>
<line x1="523.55" y1="87.70" x2="523.55" y2="109.40" stroke="#ef5350" stroke-width="0.9"/>
<rect x="521.90" y="87.70" width="3.30" height="12.70" fill="#ef5350"/>
<line x1="527.90" y1="97.00" x2="527.90" y2="109.40" stroke="#ef5350" stroke-width="0.9"/>
<rect x="526.25" y="100.40" width="3.30" height="9.00" fill="#ef5350"/>
<line x1="532.25" y1="100.40" x2="532.25" y2="109.40" stroke="#26a69a" stroke-width="0.9"/>
<rect x="530.60" y="103.20" width="3.30" height="6.20" fill="#26a69a"/>
<line x1="536.60" y1="103.20" x2="536.60" y2="128.90" stroke="#ef5350" stroke-width="0.9"/>
<rect x="534.95" y="103.20" width="3.30" height="22.80" fill="#ef5350"/>
<line x1="540.95" y1="119.40" x2="540.95" y2="126.00" stroke="#26a69a" stroke-width="0.9"/>
<rect x="539.30" y="122.70" width="3.30" height="3.30" fill="#26a69a"/>
<line x1="545.30" y1="119.40" x2="545.30" y2="128.80" stroke="#26a69a" stroke-width="0.9"/>
<rect x="543.65" y="122.40" width="3.30" height="0.80" fill="#26a69a"/>
<line x1="549.65" y1="122.70" x2="549.65" y2="128.80" stroke="#ef5350" stroke-width="0.9"/>
<rect x="548.00" y="122.70" width="3.30" height="6.10" fill="#ef5350"/>
<line x1="554.00" y1="126.00" x2="554.00" y2="128.80" stroke="#26a69a" stroke-width="0.9"/>
<rect x="552.35" y="126.00" width="3.30" height="2.80" fill="#26a69a"/>
<line x1="558.35" y1="126.00" x2="558.35" y2="144.80" stroke="#ef5350" stroke-width="0.9"/>
<rect x="556.70" y="126.00" width="3.30" height="18.80" fill="#ef5350"/>
<line x1="562.70" y1="144.80" x2="562.70" y2="157.70" stroke="#ef5350" stroke-width="0.9"/>
<rect x="561.05" y="144.80" width="3.30" height="12.90" fill="#ef5350"/>
<line x1="567.05" y1="157.70" x2="567.05" y2="192.60" stroke="#ef5350" stroke-width="0.9"/>
<rect x="565.40" y="157.70" width="3.30" height="34.90" fill="#ef5350"/>
<line x1="571.40" y1="189.30" x2="571.40" y2="192.60" stroke="#26a69a" stroke-width="0.9"/>
<rect x="569.75" y="189.30" width="3.30" height="3.30" fill="#26a69a"/>
<line x1="575.75" y1="176.80" x2="575.75" y2="189.70" stroke="#26a69a" stroke-width="0.9"/>
<rect x="574.10" y="176.80" width="3.30" height="12.90" fill="#26a69a"/>
<line x1="580.10" y1="176.80" x2="580.10" y2="202.50" stroke="#ef5350" stroke-width="0.9"/>
<rect x="578.45" y="176.80" width="3.30" height="9.60" fill="#ef5350"/>
<line x1="584.45" y1="170.20" x2="584.45" y2="186.40" stroke="#26a69a" stroke-width="0.9"/>
<rect x="582.80" y="173.20" width="3.30" height="13.20" fill="#26a69a"/>
<line x1="588.80" y1="170.20" x2="588.80" y2="183.10" stroke="#ef5350" stroke-width="0.9"/>
<rect x="587.15" y="173.20" width="3.30" height="3.60" fill="#ef5350"/>
<line x1="593.15" y1="170.20" x2="593.15" y2="183.10" stroke="#ef5350" stroke-width="0.9"/>
<rect x="591.50" y="176.80" width="3.30" height="6.30" fill="#ef5350"/>
<line x1="597.50" y1="183.10" x2="597.50" y2="205.30" stroke="#ef5350" stroke-width="0.9"/>
<rect x="595.85" y="183.10" width="3.30" height="12.80" fill="#ef5350"/>
<line x1="601.85" y1="183.10" x2="601.85" y2="198.70" stroke="#26a69a" stroke-width="0.9"/>
<rect x="600.20" y="183.10" width="3.30" height="12.80" fill="#26a69a"/>
<line x1="606.20" y1="179.80" x2="606.20" y2="189.70" stroke="#ef5350" stroke-width="0.9"/>
<rect x="604.55" y="183.10" width="3.30" height="6.60" fill="#ef5350"/>
<line x1="610.55" y1="166.90" x2="610.55" y2="189.70" stroke="#26a69a" stroke-width="0.9"/>
<rect x="608.90" y="170.20" width="3.30" height="19.50" fill="#26a69a"/>
<line x1="614.90" y1="151.10" x2="614.90" y2="179.80" stroke="#ef5350" stroke-width="0.9"/>
<rect x="613.25" y="170.20" width="3.30" height="6.60" fill="#ef5350"/>
<line x1="619.25" y1="176.80" x2="619.25" y2="221.80" stroke="#ef5350" stroke-width="0.9"/>
<rect x="617.60" y="176.80" width="3.30" height="45.00" fill="#ef5350"/>
<line x1="623.60" y1="198.70" x2="623.60" y2="221.80" stroke="#26a69a" stroke-width="0.9"/>
<rect x="621.95" y="202.00" width="3.30" height="19.80" fill="#26a69a"/>
<line x1="627.95" y1="195.90" x2="627.95" y2="205.30" stroke="#26a69a" stroke-width="0.9"/>
<rect x="626.30" y="195.90" width="3.30" height="6.60" fill="#26a69a"/>
<line x1="632.30" y1="195.90" x2="632.30" y2="198.70" stroke="#ef5350" stroke-width="0.9"/>
<rect x="630.65" y="195.90" width="3.30" height="2.80" fill="#ef5350"/>
<line x1="636.65" y1="179.80" x2="636.65" y2="202.50" stroke="#26a69a" stroke-width="0.9"/>
<rect x="635.00" y="179.80" width="3.30" height="18.90" fill="#26a69a"/>
<line x1="641.00" y1="179.80" x2="641.00" y2="202.50" stroke="#ef5350" stroke-width="0.9"/>
<rect x="639.35" y="179.80" width="3.30" height="22.70" fill="#ef5350"/>
<line x1="645.35" y1="198.70" x2="645.35" y2="218.50" stroke="#26a69a" stroke-width="0.9"/>
<rect x="643.70" y="202.20" width="3.30" height="0.80" fill="#26a69a"/>
<line x1="649.70" y1="202.50" x2="649.70" y2="221.80" stroke="#ef5350" stroke-width="0.9"/>
<rect x="648.05" y="202.50" width="3.30" height="12.70" fill="#ef5350"/>
<line x1="654.05" y1="198.70" x2="654.05" y2="218.50" stroke="#26a69a" stroke-width="0.9"/>
<rect x="652.40" y="202.50" width="3.30" height="12.70" fill="#26a69a"/>
<line x1="658.40" y1="198.70" x2="658.40" y2="205.30" stroke="#ef5350" stroke-width="0.9"/>
<rect x="656.75" y="202.50" width="3.30" height="2.80" fill="#ef5350"/>
<line x1="662.75" y1="198.70" x2="662.75" y2="205.60" stroke="#26a69a" stroke-width="0.9"/>
<rect x="661.10" y="205.00" width="3.30" height="0.80" fill="#26a69a"/>
<line x1="667.10" y1="202.00" x2="667.10" y2="208.60" stroke="#ef5350" stroke-width="0.9"/>
<rect x="665.45" y="205.30" width="3.30" height="3.30" fill="#ef5350"/>
<line x1="671.45" y1="202.00" x2="671.45" y2="218.50" stroke="#ef5350" stroke-width="0.9"/>
<rect x="669.80" y="208.60" width="3.30" height="9.90" fill="#ef5350"/>
<line x1="675.80" y1="211.90" x2="675.80" y2="234.50" stroke="#ef5350" stroke-width="0.9"/>
<rect x="674.15" y="218.50" width="3.30" height="16.00" fill="#ef5350"/>
<line x1="680.15" y1="234.50" x2="680.15" y2="253.80" stroke="#ef5350" stroke-width="0.9"/>
<rect x="678.50" y="234.50" width="3.30" height="15.50" fill="#ef5350"/>
<line x1="684.50" y1="247.20" x2="684.50" y2="285.70" stroke="#ef5350" stroke-width="0.9"/>
<rect x="682.85" y="250.00" width="3.30" height="31.90" fill="#ef5350"/>
<line x1="688.85" y1="262.60" x2="688.85" y2="281.90" stroke="#26a69a" stroke-width="0.9"/>
<rect x="687.20" y="266.20" width="3.30" height="15.70" fill="#26a69a"/>
<line x1="693.20" y1="253.00" x2="693.20" y2="266.20" stroke="#26a69a" stroke-width="0.9"/>
<rect x="691.55" y="262.60" width="3.30" height="3.60" fill="#26a69a"/>
<line x1="697.55" y1="250.00" x2="697.55" y2="266.50" stroke="#26a69a" stroke-width="0.9"/>
<rect x="695.90" y="250.00" width="3.30" height="12.60" fill="#26a69a"/>
<line x1="701.90" y1="250.00" x2="701.90" y2="272.80" stroke="#ef5350" stroke-width="0.9"/>
<rect x="700.25" y="250.00" width="3.30" height="16.20" fill="#ef5350"/>
<line x1="706.25" y1="266.20" x2="706.25" y2="294.50" stroke="#ef5350" stroke-width="0.9"/>
<rect x="704.60" y="266.20" width="3.30" height="28.30" fill="#ef5350"/>
<line x1="710.60" y1="278.60" x2="710.60" y2="294.80" stroke="#26a69a" stroke-width="0.9"/>
<rect x="708.95" y="294.20" width="3.30" height="0.80" fill="#26a69a"/>
<line x1="714.95" y1="291.50" x2="714.95" y2="310.60" stroke="#ef5350" stroke-width="0.9"/>
<rect x="713.30" y="294.40" width="3.30" height="16.20" fill="#ef5350"/>
<line x1="719.30" y1="307.40" x2="719.30" y2="339.20" stroke="#ef5350" stroke-width="0.9"/>
<rect x="717.65" y="310.60" width="3.30" height="28.60" fill="#ef5350"/>
<line x1="723.65" y1="339.20" x2="723.65" y2="410.10" stroke="#ef5350" stroke-width="0.9"/>
<rect x="722.00" y="339.20" width="3.30" height="63.50" fill="#ef5350"/>
<line x1="728.00" y1="364.40" x2="728.00" y2="402.70" stroke="#26a69a" stroke-width="0.9"/>
<rect x="726.35" y="374.30" width="3.30" height="28.40" fill="#26a69a"/>
<line x1="732.35" y1="364.40" x2="732.35" y2="381.20" stroke="#ef5350" stroke-width="0.9"/>
<rect x="730.70" y="374.60" width="3.30" height="3.00" fill="#ef5350"/>
<line x1="736.70" y1="368.00" x2="736.70" y2="381.20" stroke="#26a69a" stroke-width="0.9"/>
<rect x="735.05" y="368.00" width="3.30" height="9.60" fill="#26a69a"/>
<line x1="741.05" y1="368.00" x2="741.05" y2="374.60" stroke="#ef5350" stroke-width="0.9"/>
<rect x="739.40" y="368.00" width="3.30" height="3.00" fill="#ef5350"/>
<line x1="745.40" y1="371.00" x2="745.40" y2="393.60" stroke="#ef5350" stroke-width="0.9"/>
<rect x="743.75" y="371.00" width="3.30" height="22.60" fill="#ef5350"/>
<line x1="749.75" y1="377.60" x2="749.75" y2="393.60" stroke="#26a69a" stroke-width="0.9"/>
<rect x="748.10" y="377.60" width="3.30" height="16.00" fill="#26a69a"/>
<line x1="754.10" y1="364.40" x2="754.10" y2="377.60" stroke="#26a69a" stroke-width="0.9"/>
<rect x="752.45" y="364.40" width="3.30" height="13.20" fill="#26a69a"/>
<line x1="758.45" y1="345.20" x2="758.45" y2="364.70" stroke="#26a69a" stroke-width="0.9"/>
<rect x="756.80" y="358.10" width="3.30" height="6.60" fill="#26a69a"/>
</g>
<text x="11.10" y="41.60" font-size="9.0" fill="#4c505b" font-family="Liberation Sans, sans-serif" font-weight="bold" textLength="116.30" lengthAdjust="spacingAndGlyphs">Euro / U.S. Dollar, 1, FXCM</text>
<text x="11.20" y="54.10" font-size="9.3" fill="#6a6d78" font-family="Liberation Sans, sans-serif" stroke="#6a6d78" stroke-width="0.22" textLength="32.00" lengthAdjust="spacingAndGlyphs">Vol (20)</text>
<rect x="803.5" y="26.4" width="43.5" height="437.8" fill="#ffffff"/>
<rect x="4.75" y="443.5" width="798.75" height="20.69999999999999" fill="#ffffff"/>
<line x1="803.5" y1="33.20" x2="807.00" y2="33.20" stroke="#6b6e79" stroke-width="1"/>
<text x="809.50" y="37.20" font-size="9.6" fill="#60636e" font-family="Liberation Sans, sans-serif" stroke="#60636e" stroke-width="0.05" textLength="30.80" lengthAdjust="spacingAndGlyphs">1.09650</text>
<line x1="803.5" y1="65.03" x2="807.00" y2="65.03" stroke="#6b6e79" stroke-width="1"/>
<text x="809.50" y="69.03" font-size="9.6" fill="#60636e" font-family="Liberation Sans, sans-serif" stroke="#60636e" stroke-width="0.05" textLength="30.80" lengthAdjust="spacingAndGlyphs">1.09640</text>
<line x1="803.5" y1="96.86" x2="807.00" y2="96.86" stroke="#6b6e79" stroke-width="1"/>
<text x="809.50" y="100.86" font-size="9.6" fill="#60636e" font-family="Liberation Sans, sans-serif" stroke="#60636e" stroke-width="0.05" textLength="30.80" lengthAdjust="spacingAndGlyphs">1.09630</text>
<line x1="803.5" y1="128.69" x2="807.00" y2="128.69" stroke="#6b6e79" stroke-width="1"/>
<text x="809.50" y="132.69" font-size="9.6" fill="#60636e" font-family="Liberation Sans, sans-serif" stroke="#60636e" stroke-width="0.05" textLength="30.80" lengthAdjust="spacingAndGlyphs">1.09620</text>
<line x1="803.5" y1="160.52" x2="807.00" y2="160.52" stroke="#6b6e79" stroke-width="1"/>
<text x="809.50" y="164.52" font-size="9.6" fill="#60636e" font-family="Liberation Sans, sans-serif" stroke="#60636e" stroke-width="0.05" textLength="30.80" lengthAdjust="spacingAndGlyphs">1.09610</text>
<line x1="803.5" y1="192.35" x2="807.00" y2="192.35" stroke="#6b6e79" stroke-width="1"/>
<text x="809.50" y="196.35" font-size="9.6" fill="#60636e" font-family="Liberation Sans, sans-serif" stroke="#60636e" stroke-width="0.05" textLength="30.80" lengthAdjust="spacingAndGlyphs">1.09600</text>
<line x1="803.5" y1="224.18" x2="807.00" y2="224.18" stroke="#6b6e79" stroke-width="1"/>
<text x="809.50" y="228.18" font-size="9.6" fill="#60636e" font-family="Liberation Sans, sans-serif" stroke="#60636e" stroke-width="0.05" textLength="30.80" lengthAdjust="spacingAndGlyphs">1.09590</text>
<line x1="803.5" y1="256.01" x2="807.00" y2="256.01" stroke="#6b6e79" stroke-width="1"/>
<text x="809.50" y="260.01" font-size="9.6" fill="#60636e" font-family="Liberation Sans, sans-serif" stroke="#60636e" stroke-width="0.05" textLength="30.80" lengthAdjust="spacingAndGlyphs">1.09580</text>
<line x1="803.5" y1="287.84" x2="807.00" y2="287.84" stroke="#6b6e79" stroke-width="1"/>
<text x="809.50" y="291.84" font-size="9.6" fill="#60636e" font-family="Liberation Sans, sans-serif" stroke="#60636e" stroke-width="0.05" textLength="30.80" lengthAdjust="spacingAndGlyphs">1.09570</text>
<line x1="803.5" y1="319.67" x2="807.00" y2="319.67" stroke="#6b6e79" stroke-width="1"/>
<text x="809.50" y="323.67" font-size="9.6" fill="#60636e" font-family="Liberation Sans, sans-serif" stroke="#60636e" stroke-width="0.05" textLength="30.80" lengthAdjust="spacingAndGlyphs">1.09560</text>
<line x1="803.5" y1="351.50" x2="807.00" y2="351.50" stroke="#6b6e79" stroke-width="1"/>
<text x="809.50" y="355.50" font-size="9.6" fill="#60636e" font-family="Liberation Sans, sans-serif" stroke="#60636e" stroke-width="0.05" textLength="30.80" lengthAdjust="spacingAndGlyphs">1.09550</text>
<line x1="803.5" y1="383.33" x2="807.00" y2="383.33" stroke="#6b6e79" stroke-width="1"/>
<text x="809.50" y="387.33" font-size="9.6" fill="#60636e" font-family="Liberation Sans, sans-serif" stroke="#60636e" stroke-width="0.05" textLength="30.80" lengthAdjust="spacingAndGlyphs">1.09540</text>
<line x1="803.5" y1="415.16" x2="807.00" y2="415.16" stroke="#6b6e79" stroke-width="1"/>
<text x="809.50" y="419.16" font-size="9.6" fill="#60636e" font-family="Liberation Sans, sans-serif" stroke="#60636e" stroke-width="0.05" textLength="30.80" lengthAdjust="spacingAndGlyphs">1.09530</text>
<line x1="66.50" y1="443.5" x2="66.50" y2="446.00" stroke="#6b6e79" stroke-width="1"/>
<text x="54.60" y="457.30" font-size="9.0" fill="#50535e" font-family="Liberation Sans, sans-serif" font-weight="bold" textLength="23.60" lengthAdjust="spacingAndGlyphs">03:00</text>
<line x1="132.50" y1="443.5" x2="132.50" y2="446.00" stroke="#6b6e79" stroke-width="1"/>
<text x="120.75" y="457.30" font-size="9.0" fill="#5d606b" font-family="Liberation Sans, sans-serif" stroke="#5d606b" stroke-width="0.06" textLength="21.80" lengthAdjust="spacingAndGlyphs">03:15</text>
<line x1="197.50" y1="443.5" x2="197.50" y2="446.00" stroke="#6b6e79" stroke-width="1"/>
<text x="186.00" y="457.30" font-size="9.0" fill="#5d606b" font-family="Liberation Sans, sans-serif" stroke="#5d606b" stroke-width="0.06" textLength="21.80" lengthAdjust="spacingAndGlyphs">03:30</text>
<line x1="262.50" y1="443.5" x2="262.50" y2="446.00" stroke="#6b6e79" stroke-width="1"/>
<text x="251.25" y="457.30" font-size="9.0" fill="#5d606b" font-family="Liberation Sans, sans-serif" stroke="#5d606b" stroke-width="0.06" textLength="21.80" lengthAdjust="spacingAndGlyphs">03:45</text>
<line x1="327.50" y1="443.5" x2="327.50" y2="446.00" stroke="#6b6e79" stroke-width="1"/>
<text x="315.60" y="457.30" font-size="9.0" fill="#50535e" font-family="Liberation Sans, sans-serif" font-weight="bold" textLength="23.60" lengthAdjust="spacingAndGlyphs">04:00</text>
<line x1="393.50" y1="443.5" x2="393.50" y2="446.00" stroke="#6b6e79" stroke-width="1"/>
<text x="381.75" y="457.30" font-size="9.0" fill="#5d606b" font-family="Liberation Sans, sans-serif" stroke="#5d606b" stroke-width="0.06" textLength="21.80" lengthAdjust="spacingAndGlyphs">04:15</text>
<line x1="458.50" y1="443.5" x2="458.50" y2="446.00" stroke="#6b6e79" stroke-width="1"/>
<text x="447.00" y="457.30" font-size="9.0" fill="#5d606b" font-family="Liberation Sans, sans-serif" stroke="#5d606b" stroke-width="0.06" textLength="21.80" lengthAdjust="spacingAndGlyphs">04:30</text>
<line x1="523.50" y1="443.5" x2="523.50" y2="446.00" stroke="#6b6e79" stroke-width="1"/>
<text x="512.25" y="457.30" font-size="9.0" fill="#5d606b" font-family="Liberation Sans, sans-serif" stroke="#5d606b" stroke-width="0.06" textLength="21.80" lengthAdjust="spacingAndGlyphs">04:45</text>
<line x1="588.50" y1="443.5" x2="588.50" y2="446.00" stroke="#6b6e79" stroke-width="1"/>
<text x="576.60" y="457.30" font-size="9.0" fill="#50535e" font-family="Liberation Sans, sans-serif" font-weight="bold" textLength="23.60" lengthAdjust="spacingAndGlyphs">05:00</text>
<line x1="654.50" y1="443.5" x2="654.50" y2="446.00" stroke="#6b6e79" stroke-width="1"/>
<text x="642.75" y="457.30" font-size="9.0" fill="#5d606b" font-family="Liberation Sans, sans-serif" stroke="#5d606b" stroke-width="0.06" textLength="21.80" lengthAdjust="spacingAndGlyphs">05:15</text>
<line x1="719.50" y1="443.5" x2="719.50" y2="446.00" stroke="#6b6e79" stroke-width="1"/>
<text x="708.00" y="457.30" font-size="9.0" fill="#5d606b" font-family="Liberation Sans, sans-serif" stroke="#5d606b" stroke-width="0.06" textLength="21.80" lengthAdjust="spacingAndGlyphs">05:30</text>
<line x1="784.50" y1="443.5" x2="784.50" y2="446.00" stroke="#6b6e79" stroke-width="1"/>
<text x="773.25" y="457.30" font-size="9.0" fill="#5d606b" font-family="Liberation Sans, sans-serif" stroke="#5d606b" stroke-width="0.06" textLength="21.80" lengthAdjust="spacingAndGlyphs">05:45</text>
<rect x="803.5" y="352.0" width="43.5" height="11.9" fill="#26a69a"/>
<line x1="803.5" y1="358.3" x2="806.0" y2="358.3" stroke="#ffffff" stroke-width="1"/>
<text x="809.50" y="360.60" font-size="9.6" fill="#ffffff" font-family="Liberation Sans, sans-serif" textLength="30.80" lengthAdjust="spacingAndGlyphs">1.09548</text>
<rect x="816.9" y="365.2" width="30.10" height="11.5" fill="#26a69a"/>
<text x="819.80" y="373.50" font-size="9.6" fill="#ffffff" font-family="Liberation Sans, sans-serif" textLength="20.60" lengthAdjust="spacingAndGlyphs">00:43</text>
<g stroke="#6b6e79" stroke-width="1" fill="none">
<rect x="4.75" y="26.4" width="842.25" height="437.8"/>
<line x1="803.5" y1="26.4" x2="803.5" y2="464.2"/>
<line x1="4.75" y1="443.5" x2="847.0" y2="443.5"/>
</g>
<g>
<g fill="#2196f3"><rect x="4.6" y="478.6" width="18.5" height="4.1" rx="2.1"/><circle cx="7.7" cy="479.6" r="3.0"/><circle cx="12.3" cy="476.4" r="4.35"/><circle cx="19.5" cy="479.2" r="3.6"/><rect x="12" y="475.4" width="6" height="6"/></g>
<polyline points="6.0,481.5 11.8,475.4 16.0,481.1 20.9,476.0" fill="none" stroke="#ffffff" stroke-width="1.25" stroke-linejoin="miter"/>
</g>
<text x="24.80" y="480.70" font-size="9.6" fill="#50535e" font-family="Liberation Sans, sans-serif" stroke="#50535e" stroke-width="0.22" textLength="51.00" lengthAdjust="spacingAndGlyphs">TradingView</text>
</svg>
</body></html>
